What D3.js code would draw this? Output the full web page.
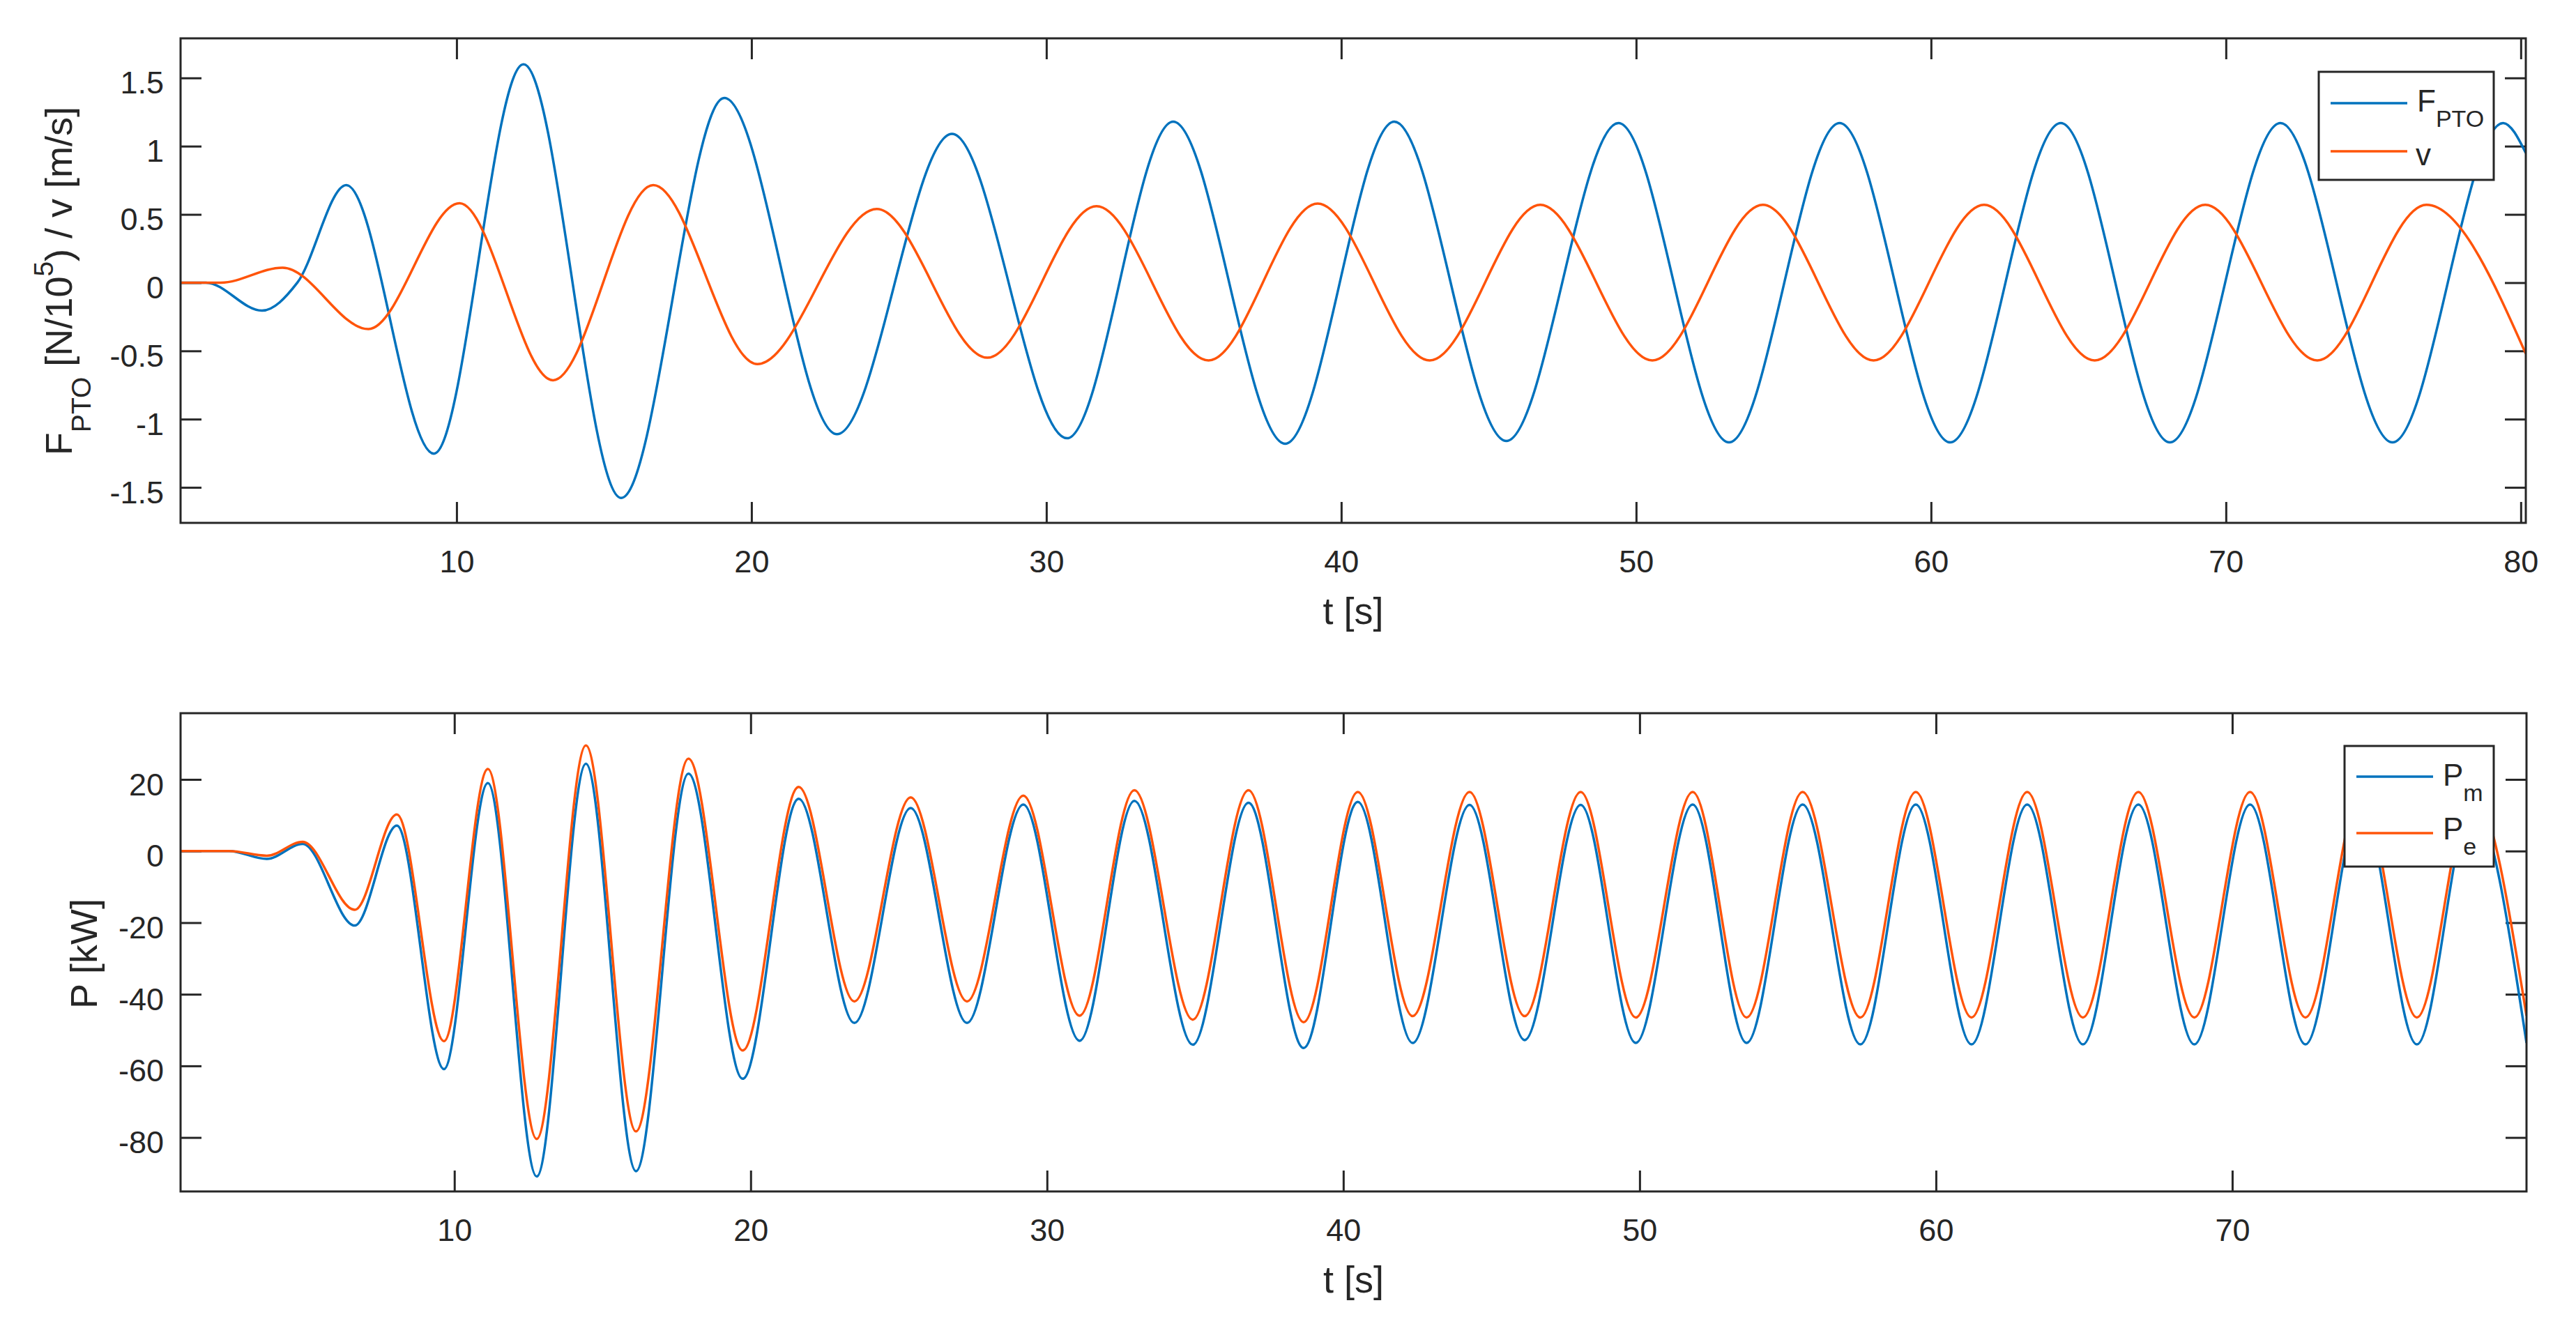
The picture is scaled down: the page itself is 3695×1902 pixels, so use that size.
<!DOCTYPE html>
<html>
<head>
<meta charset="utf-8">
<script src="https://cdn.jsdelivr.net/npm/d3@7"></script>
<style>
  body{margin:0;background:#fff;}
  text{font-family:"Liberation Sans",Arial,sans-serif;fill:#262626;}
  .tick text{font-size:45px;}
  .label{font-size:54px;}
  .legtext{font-size:44px;}
</style>
</head>
<body>
<svg id="chart"></svg>
<script>
// top panel: force and velocity (extrema)
var fTime=[0.64,1.5,3.4,4.6,6.26,9.23,12.27,15.58,19.08,22.9,26.8,30.7,34.3,38.1,41.8,45.6,49.4,53.15,56.9,60.65,64.4,68.1,71.85,75.65,79.4,80.17];
var fPto=[0,0,-0.205,0,0.715,-1.253,1.60,-1.577,1.353,-1.11,1.09,-1.14,1.18,-1.18,1.18,-1.16,1.17,-1.17,1.17,-1.17,1.17,-1.17,1.17,-1.17,1.17,0.95];

var vTime=[0.64,2.0,4.1,7.01,10.1,13.27,16.67,20.2,24.25,28.0,31.7,35.5,39.2,43.0,46.75,50.55,54.3,58.05,61.8,65.55,69.3,73.1,76.8,80.17];
var vel=[0,0,0.11,-0.34,0.582,-0.715,0.715,-0.597,0.54,-0.55,0.56,-0.57,0.58,-0.57,0.57,-0.57,0.57,-0.57,0.57,-0.57,0.57,-0.57,0.57,-0.52];

// bottom panel: mechanical and electrical power
var pTime=[0.76,2.4,3.67,4.88,6.64,8.06,9.65,11.13,12.78,14.44,16.13,17.9,19.73,21.62,23.5,25.4,27.3,29.2,31.1,32.95,34.92,36.8,38.66,40.49,42.34,44.26,46.12,48.01,49.87,51.79,53.61,55.5,57.45,59.32,61.2,63.08,64.96,66.83,68.72,70.6,72.47,74.35,76.23,78.1,79.93];
var pMech=[0,0,-2.2,2.0,-20.8,7.1,-60.9,19.0,-90.9,24.4,-89.4,21.6,-63.6,14.6,-48,12,-48,13,-53,14,-54.1,13.5,-55,13.7,-53.6,12.9,-52.8,12.9,-53.6,13,-53.6,13,-54,13,-54,13,-54,13,-54,13,-54,13,-54,13,-53.6];
var pElec=[0,0,-1.3,2.6,-16.4,10.2,-53.1,22.9,-80.4,29.5,-78.3,25.8,-55.7,17.9,-42,15,-42,15.5,-46,17,-47.1,17,-47.8,16.5,-46.1,16.5,-46.1,16.5,-46.5,16.5,-46.5,16.5,-46.5,16.5,-46.5,16.5,-46.5,16.5,-46.5,16.5,-46.5,16.5,-46.5,16.5,-46];

var topTicksX=[10,20,30,40,50,60,70,80];
var topTicksY=[-1.5,-1,-0.5,0,0.5,1,1.5];
var botTicksX=[10,20,30,40,50,60,70];
var botTicksY=[-80,-60,-40,-20,0,20];

var blue="#0072BD";
var orange="#FF540A";

var svg=d3.select("#chart")
    .attr("width",3695)
    .attr("height",1902)

var zip=function(ts,vs)
    {
        return ts.map(function(t,i){return {t:t,v:vs[i]};});
    }

var drawPanel=function(p)
    {
        var w=p.right-p.left;
        var h=p.bottom-p.top;
        var xScale=d3.scaleLinear().domain(p.xDomain).range([0,w]);
        var yScale=d3.scaleLinear().domain(p.yDomain).range([h,0]);

        var g=svg.append("g")
            .attr("transform","translate("+p.left+","+p.top+")");

        g.append("clipPath").attr("id",p.id+"clip")
            .append("rect").attr("width",w).attr("height",h);

        var fmt=function(d){return String(d);};

        // ticks on all four sides, pointing inward
        var xb=g.append("g").attr("transform","translate(0,"+h+")")
            .call(d3.axisBottom(xScale).tickValues(p.xTicks).tickSize(-30).tickPadding(39).tickFormat(fmt));
        var xt=g.append("g")
            .call(d3.axisTop(xScale).tickValues(p.xTicks).tickSize(-30).tickFormat(""));
        var yl=g.append("g")
            .call(d3.axisLeft(yScale).tickValues(p.yTicks).tickSize(-30).tickPadding(24).tickFormat(fmt));
        var yr=g.append("g").attr("transform","translate("+w+",0)")
            .call(d3.axisRight(yScale).tickValues(p.yTicks).tickSize(-30).tickFormat(""));
        [xb,xt,yl,yr].forEach(function(a)
            {
                a.select(".domain").remove();
                a.selectAll("line").attr("stroke","#262626").attr("stroke-width",3);
            });
        yl.selectAll("text").attr("dy","0.49em");
        xb.selectAll("text").attr("dy","0.71em");

        var line=d3.line()
            .x(function(d){return xScale(d.t);})
            .y(function(d){return yScale(d.v);})
            .curve(d3.curveMonotoneX);

        var plot=g.append("g").attr("clip-path","url(#"+p.id+"clip)");
        p.series.forEach(function(s)
            {
                plot.append("path")
                    .datum(s.data)
                    .attr("d",line)
                    .attr("fill","none")
                    .attr("stroke",s.color)
                    .attr("stroke-width",3.5);
            });

        g.append("rect")
            .attr("width",w).attr("height",h)
            .attr("fill","none").attr("stroke","#262626").attr("stroke-width",3);

        // x label
        g.append("text").classed("label",true)
            .attr("text-anchor","middle")
            .attr("x",w/2).attr("y",h+145)
            .text("t [s]");
        return g;
    }

var legend=function(box,items)
    {
        var lg=svg.append("g");
        lg.append("rect")
            .attr("x",box.x).attr("y",box.y).attr("width",box.w).attr("height",box.h)
            .attr("fill","#fff").attr("stroke","#262626").attr("stroke-width",3);
        items.forEach(function(it)
            {
                lg.append("line")
                    .attr("x1",box.x+17).attr("x2",box.x+127)
                    .attr("y1",it.ly).attr("y2",it.ly)
                    .attr("stroke",it.color).attr("stroke-width",3.5);
                var t=lg.append("text").classed("legtext",true)
                    .attr("x",it.tx).attr("y",it.ty);
                t.append("tspan").text(it.main);
                if(it.sub)
                    {
                        t.append("tspan").attr("dy",22).style("font-size","34px").text(it.sub);
                    }
            });
    }

drawPanel({
    id:"top",left:259,right:3623,top:55,bottom:750,
    xDomain:[0.64,80.17],yDomain:[-1.76,1.79],
    xTicks:topTicksX,yTicks:topTicksY,
    series:[{data:zip(fTime,fPto),color:blue},{data:zip(vTime,vel),color:orange}]
});
drawPanel({
    id:"bot",left:259,right:3624,top:1023,bottom:1709,
    xDomain:[0.76,79.93],yDomain:[-95.07,38.5],
    xTicks:botTicksX,yTicks:botTicksY,
    series:[{data:zip(pTime,pMech),color:blue},{data:zip(pTime,pElec),color:orange}]
});

// y labels
var yl1=svg.append("text").classed("label",true)
    .attr("text-anchor","middle")
    .attr("transform","translate(103,403) rotate(-90)");
yl1.append("tspan").text("F");
yl1.append("tspan").attr("dy",27).style("font-size","39px").text("PTO");
yl1.append("tspan").attr("dy",-27).text(" [N/10");
yl1.append("tspan").attr("dy",-27).style("font-size","39px").text("5");
yl1.append("tspan").attr("dy",27).text(") / v [m/s]");

svg.append("text").classed("label",true)
    .attr("text-anchor","middle")
    .attr("transform","translate(139,1368) rotate(-90)")
    .text("P [kW]");

legend({x:3326,y:103,w:251,h:155},[
    {color:blue,ly:148,tx:3467,ty:160,main:"F",sub:"PTO"},
    {color:orange,ly:217,tx:3465,ty:237,main:"v"}
]);
legend({x:3363,y:1070,w:214,h:173},[
    {color:blue,ly:1114,tx:3504,ty:1127,main:"P",sub:"m"},
    {color:orange,ly:1195,tx:3504,ty:1204,main:"P",sub:"e"}
]);
</script>
</body>
</html>
